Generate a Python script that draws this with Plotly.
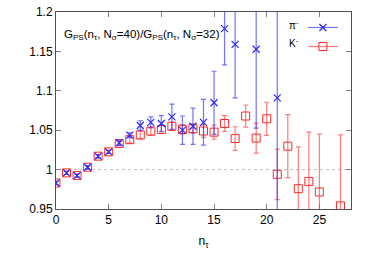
import plotly.graph_objects as go

# pi^- data
pi_n = [0, 1, 2, 3, 4, 5, 6, 7, 8, 9, 10, 11, 12, 13, 14, 15, 16, 17, 19, 21]
pi_v = [0.983, 0.9958, 0.9924, 1.003, 1.017, 1.0225, 1.034, 1.0437, 1.056, 1.060, 1.0585, 1.067,
        1.050, 1.055, 1.060, 1.0848, 1.179, 1.159, 1.1527, 1.091]
pi_e = [0.002, 0.002, 0.002, 0.002, 0.002, 0.002, 0.003, 0.003, 0.006, 0.007, 0.010, 0.016,
        0.018, 0.023, 0.029, 0.040, 0.046, 0.068, 0.100, 0.160]

# K^- data
k_n = [0, 1, 2, 3, 4, 5, 6, 7, 8, 9, 10, 11, 12, 13, 14, 15, 16, 17, 18, 19, 20, 21, 22, 23, 24, 25, 27]
k_v = [0.983, 0.9958, 0.9924, 1.003, 1.017, 1.0225, 1.033, 1.038, 1.0440, 1.0488, 1.051, 1.055,
       1.051, 1.052, 1.049, 1.0475, 1.0585, 1.0394, 1.068, 1.040, 1.0645, 0.994, 1.0297, 0.9758,
       0.985, 0.9716, 0.954]
k_e = [0.002, 0.002, 0.002, 0.002, 0.002, 0.002, 0.003, 0.004, 0.005, 0.005, 0.005, 0.005,
       0.006, 0.006, 0.008, 0.009, 0.010, 0.015, 0.014, 0.019, 0.021, 0.032, 0.040, 0.053,
       0.0625, 0.0735, 0.090]

x_ticks = [0, 5, 10, 15, 20, 25]
y_ticks = [0.95, 1, 1.05, 1.1, 1.15, 1.2]
y_tick_text = ["0.95", "1", "1.05", "1.1", "1.15", "1.2"]

BLUE = "rgb(40,40,255)"
BLUE_E = "rgba(40,40,255,0.65)"
RED = "rgb(255,40,40)"
RED_E = "rgba(255,40,40,0.6)"

fig = go.Figure()

fig.add_shape(type="line", xref="paper", x0=0, x1=1, yref="y", y0=1, y1=1,
              line=dict(color="rgb(190,190,190)", width=1, dash="dot"), layer="below")

fig.add_trace(go.Scatter(
    x=k_n, y=k_v, mode="markers", showlegend=False,
    marker=dict(symbol="square-open", size=8, color=RED, line=dict(width=1, color=RED)),
    error_y=dict(type="data", array=k_e, color=RED_E, thickness=1.2, width=2.5),
))
fig.add_trace(go.Scatter(
    x=pi_n, y=pi_v, mode="markers", showlegend=False,
    marker=dict(symbol="x-thin-open", size=7, color=BLUE, line=dict(width=1.2, color=BLUE)),
    error_y=dict(type="data", array=pi_e, color=BLUE_E, thickness=1.2, width=2.5),
))

# legend entries (symbols only; text via annotations)
fig.add_trace(go.Scatter(
    x=[None], y=[None], mode="lines+markers", name=" ",
    line=dict(color=BLUE_E, width=1.2),
    marker=dict(symbol="x-thin-open", size=7, color=BLUE, line=dict(width=1.2, color=BLUE)),
))
fig.add_trace(go.Scatter(
    x=[None], y=[None], mode="lines+markers", name=" ",
    line=dict(color=RED_E, width=1.2),
    marker=dict(symbol="square-open", size=8, color=RED, line=dict(width=1, color=RED)),
))

font_family = "Liberation Sans, Arial, sans-serif"

fig.update_layout(
    width=374, height=262,
    margin=dict(l=56, r=23, t=12, b=53, autoexpand=False),
    paper_bgcolor="white", plot_bgcolor="white",
    font=dict(family=font_family, size=12, color="black"),
    showlegend=True,
    legend=dict(x=0.837, y=0.995, xanchor="left", yanchor="top", bgcolor="rgba(0,0,0,0)",
                itemwidth=30, tracegroupgap=0, font=dict(size=11)),
    xaxis=dict(range=[0, 28], tickvals=x_ticks, ticks="inside", ticklen=5, tickcolor="gray",
               showline=True, linecolor="rgb(80,80,80)", linewidth=1, mirror="ticks",
               showgrid=False, zeroline=False, tickfont=dict(size=12), automargin=False,
               ticklabeloverflow="allow",
               title=dict(text="n<sub>τ</sub>", font=dict(size=12), standoff=10)),
    yaxis=dict(range=[0.95, 1.2], tickvals=y_ticks, ticktext=y_tick_text, ticks="inside",
               ticklen=5, tickcolor="gray", showline=True, linecolor="rgb(80,80,80)",
               linewidth=1, mirror="ticks", showgrid=False, zeroline=False,
               tickfont=dict(size=12), automargin=False, ticklabeloverflow="allow"),
    annotations=[
        dict(text="G<sub>PS</sub>(n<sub>τ</sub>, N<sub>σ</sub>=40)/G<sub>PS</sub>(n<sub>τ</sub>, N<sub>σ</sub>=32)",
             xref="paper", yref="paper", x=0.02, y=0.885, xanchor="left", yanchor="middle",
             showarrow=False, font=dict(size=11.5)),
        dict(text="π<sup>-</sup>", xref="paper", yref="paper", x=0.83, y=0.934,
             xanchor="right", yanchor="middle", showarrow=False, font=dict(size=10)),
        dict(text="K<sup>-</sup>", xref="paper", yref="paper", x=0.83, y=0.843,
             xanchor="right", yanchor="middle", showarrow=False, font=dict(size=10)),
    ],
)

fig.write_html("out.html", config={"displayModeBar": False},
               post_script="document.body.style.margin='0px';")
